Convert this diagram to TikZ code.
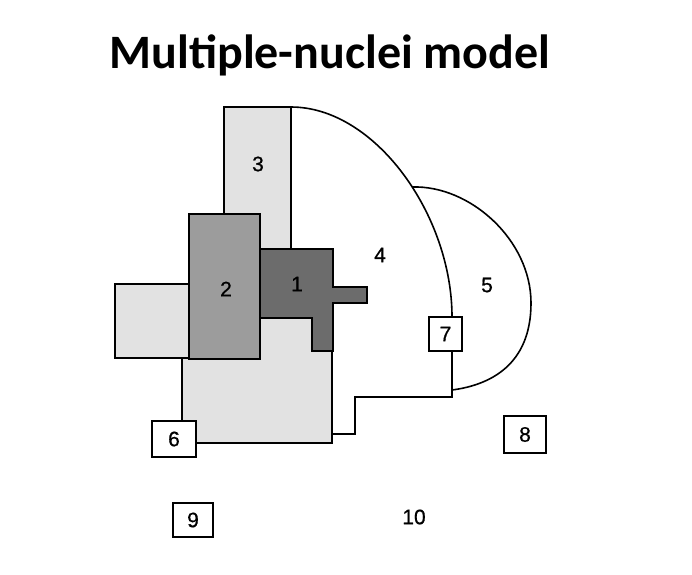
\documentclass[tikz,border=0pt]{standalone}
\usepackage{fontspec}
\setmainfont{Liberation Sans}
\newfontfamily\titlefont{Carlito}
\newfontfamily\numfont[FakeBold=0.7]{Liberation Sans}
\begin{document}
\begin{tikzpicture}[x=1pt,y=-1pt,
  outl/.style={draw=black,line width=1.6pt,line join=miter},
  lightzone/.style={outl,fill=lightgrey},
  midzone/.style={outl,fill=midgrey},
  darkzone/.style={outl,fill=darkgrey},
  numlab/.style={font=\numfont\fontsize{21}{21}\selectfont,inner sep=0pt},
  numbox/.style={outl,fill=white,inner sep=0pt,font=\numfont\fontsize{21}{21}\selectfont}]
\definecolor{lightgrey}{HTML}{E2E2E2}
\definecolor{midgrey}{HTML}{9C9C9C}
\definecolor{darkgrey}{HTML}{6C6C6C}
\useasboundingbox (0,0) rectangle (692,574);
\fill[white] (0,0) rectangle (692,574);
% title
\node[anchor=base,inner sep=0pt,font=\titlefont\bfseries\fontsize{48}{48}\selectfont] (title) at (330,68) {Multiple-nuclei model};
% region 5
\draw[outl] (412,187) .. controls (470,185) and (531,240) .. (531,303)
  .. controls (531,365) and (490,385) .. (452,390);
% region 4 outline
\draw[outl] (291,107) .. controls (375,107) and (452,215) .. (452,317)
  -- (452,397) -- (355,397) -- (355,434) -- (332,434);
% light bottom zone
\draw[lightzone] (182,318) rectangle (332,443);
% left light zone
\draw[lightzone] (115,284) rectangle (189,358);
% region 3
\draw[lightzone] (224,107) rectangle (291,262);
% region 2
\draw[midzone] (189,214) rectangle (260,359);
% region 1
\draw[darkzone] (260,249) -- (333,249) -- (333,287) -- (367,287) -- (367,303)
  -- (333,303) -- (333,351) -- (312,351) -- (312,318) -- (260,318) -- cycle;
% labels
\node[numlab] (l1) at (297,284) {1};
\node[numlab] (l2) at (226,289) {2};
\node[numlab] (l3) at (258,164) {3};
\node[numlab] (l4) at (380,255) {4};
\node[numlab] (l5) at (487,285) {5};
\node[numlab] (l10) at (414,517) {10};
% boxes
\node[numbox,minimum width=44pt,minimum height=36pt] (b6) at (174,439) {6};
\node[numbox,minimum width=33pt,minimum height=34pt] (b7) at (445.5,334) {7};
\node[numbox,minimum width=42pt,minimum height=37pt] (b8) at (525,434.5) {8};
\node[numbox,minimum width=40pt,minimum height=34pt] (b9) at (193,520) {9};
\end{tikzpicture}
\end{document}
